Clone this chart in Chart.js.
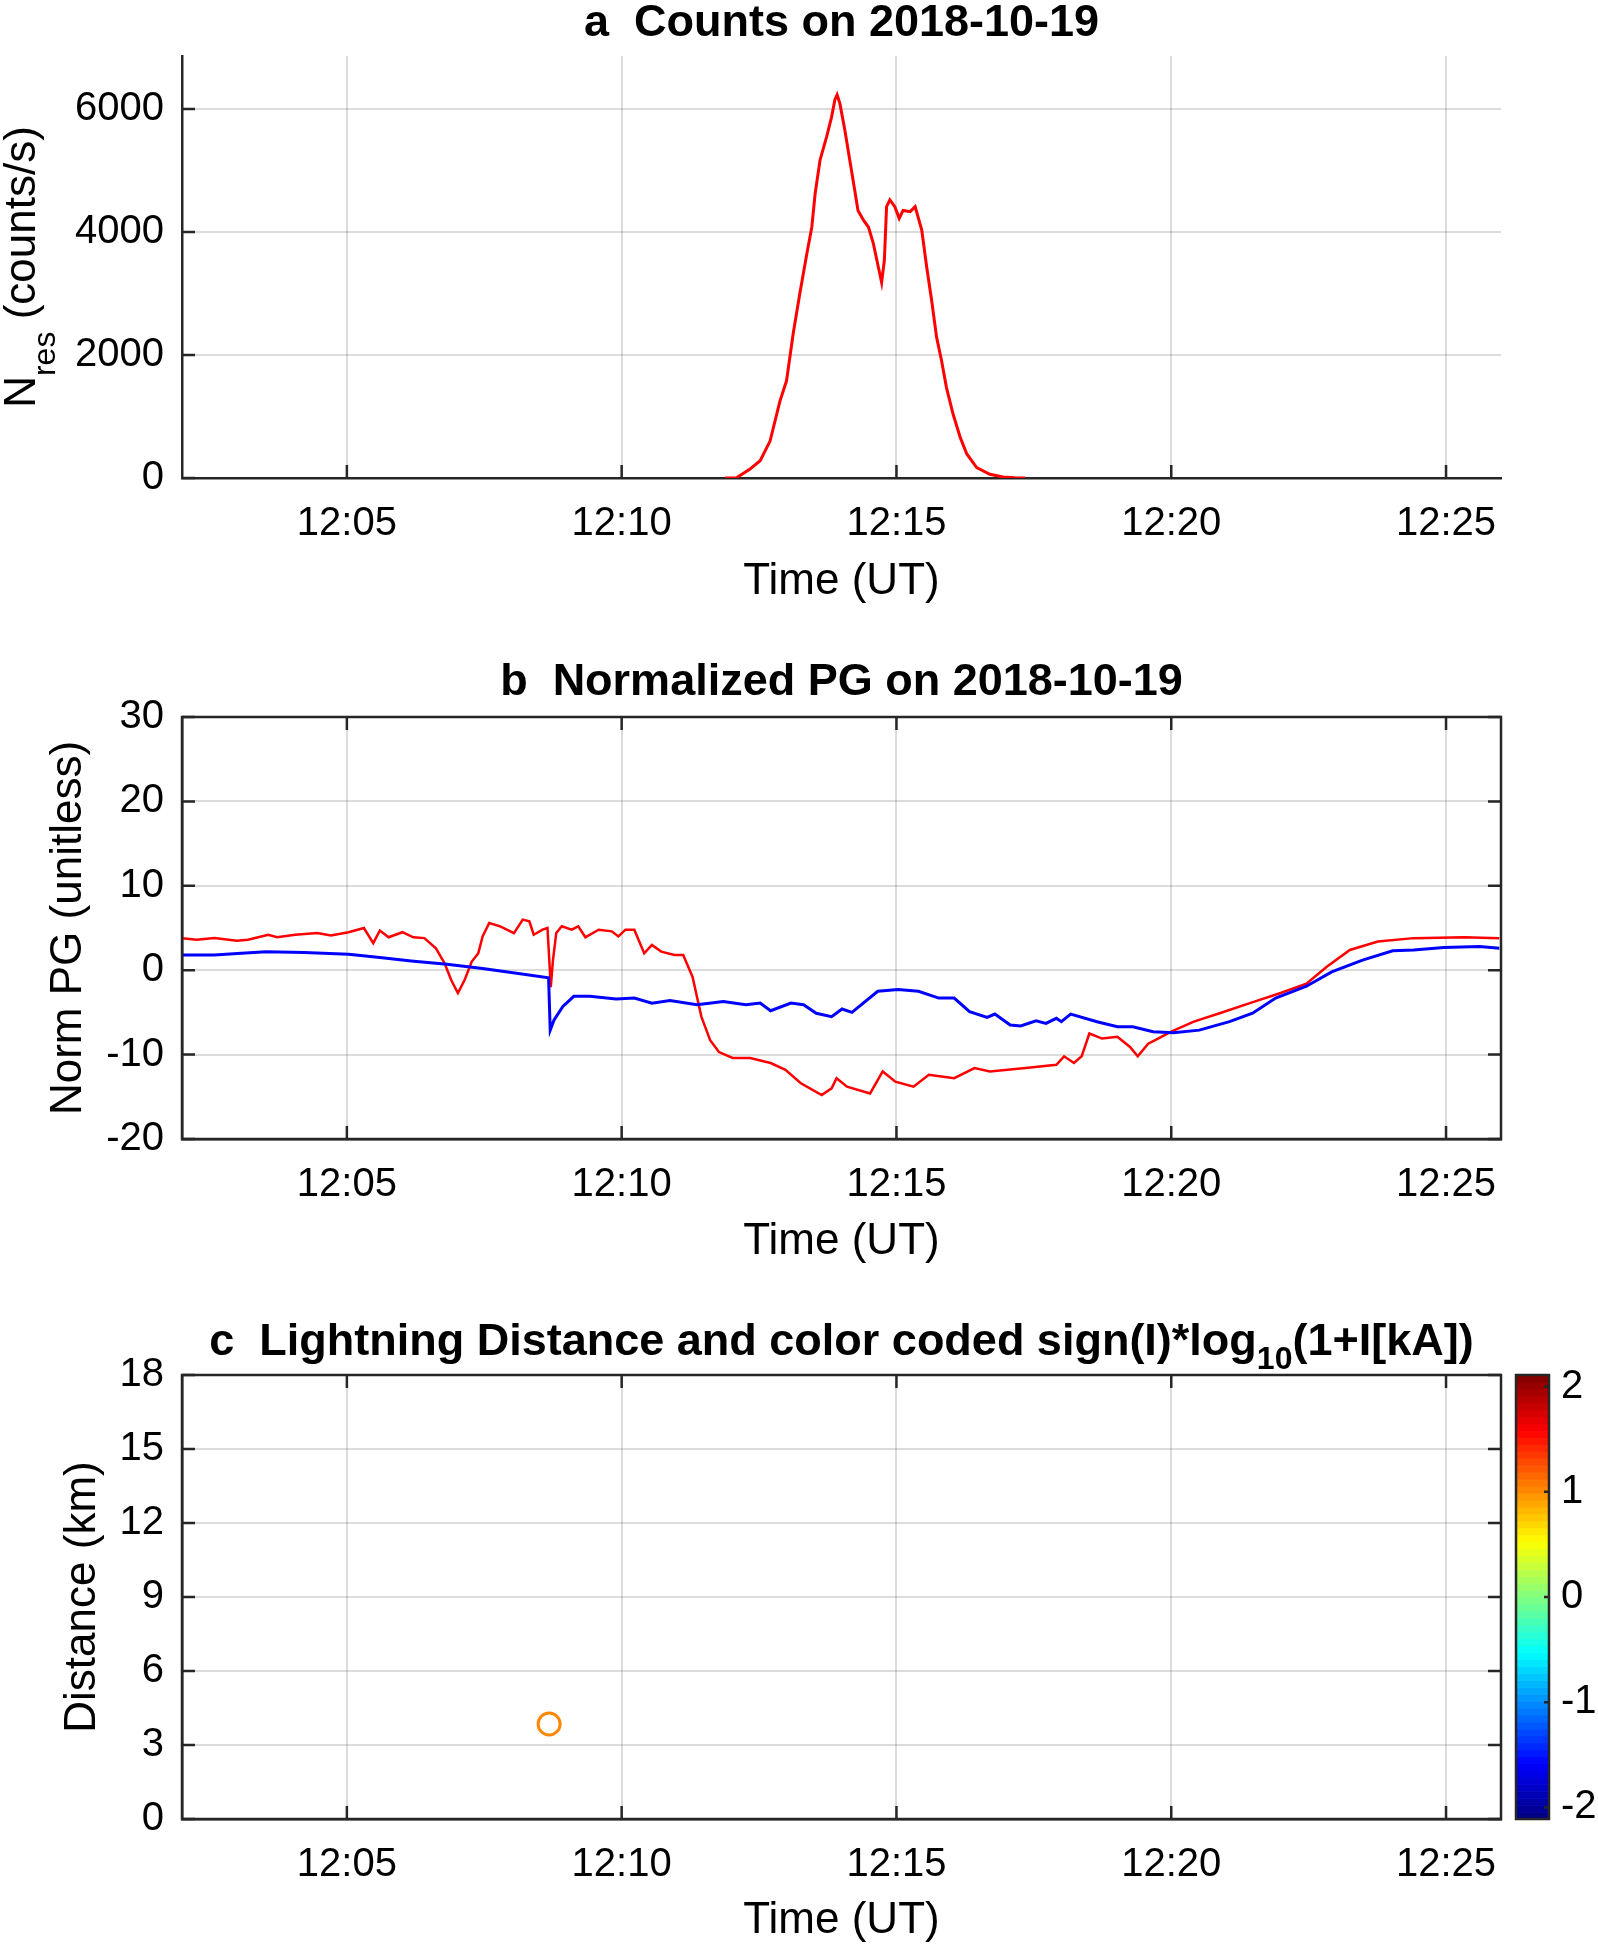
<!DOCTYPE html>
<html>
<head>
<meta charset="utf-8">
<title>Counts, normalized PG and lightning on 2018-10-19</title>
<script src="https://cdn.jsdelivr.net/npm/chart.js@4.4.1/dist/chart.umd.min.js"></script>
<style>
  html, body { margin: 0; padding: 0; background: #fff; }
  body { position: relative; width: 1598px; height: 1945px; overflow: hidden; }
  canvas { position: absolute; left: 0; }
</style>
</head>
<body>
<canvas id="panelA" width="1598" height="630" style="top:0px"></canvas>
<canvas id="panelB" width="1598" height="640" style="top:630px"></canvas>
<canvas id="panelC" width="1598" height="675" style="top:1270px"></canvas>
<script>
// time axis: minutes after 12:00 UT
const xMin = 2, xMax = 26;
const xTickMinutes = [5, 10, 15, 20, 25];
const xTickLabels = ['12:05', '12:10', '12:15', '12:20', '12:25'];

// a  counts
const countsMinutes = [11.88, 12.09, 12.33, 12.52, 12.70, 12.88, 13.00, 13.12, 13.24, 13.37, 13.46, 13.52, 13.61, 13.73, 13.82, 13.88, 13.92, 13.97, 14.06, 14.15, 14.24, 14.30, 14.40, 14.49, 14.58, 14.67, 14.73, 14.78, 14.82, 14.88, 14.97, 15.05, 15.12, 15.25, 15.34, 15.46, 15.55, 15.64, 15.73, 15.82, 15.91, 16.03, 16.16, 16.28, 16.46, 16.70, 16.94, 17.15, 17.34];
const countsValues = [0, 5, 140, 280, 600, 1250, 1580, 2340, 2990, 3650, 4080, 4620, 5170, 5550, 5870, 6150, 6230, 6090, 5660, 5170, 4680, 4350, 4190, 4080, 3810, 3430, 3180, 3540, 4410, 4520, 4410, 4220, 4350, 4330, 4410, 4030, 3430, 2890, 2290, 1910, 1470, 1040, 660, 390, 170, 60, 16, 5, 0];
const countsTicks = [0, 2000, 4000, 6000];

// b  normalized PG, red and blue traces
const pgRedMinutes = [2.0, 2.27, 2.59, 3.0, 3.2, 3.57, 3.73, 4.06, 4.46, 4.71, 5.03, 5.31, 5.48, 5.60, 5.76, 6.01, 6.21, 6.41, 6.62, 6.78, 6.90, 7.02, 7.14, 7.27, 7.39, 7.47, 7.59, 7.79, 8.04, 8.20, 8.32, 8.40, 8.56, 8.65, 8.69, 8.71, 8.75, 8.81, 8.91, 9.09, 9.21, 9.34, 9.58, 9.82, 9.94, 10.07, 10.23, 10.41, 10.55, 10.72, 10.96, 11.12, 11.29, 11.45, 11.61, 11.77, 12.02, 12.34, 12.71, 12.98, 13.26, 13.64, 13.82, 13.91, 14.10, 14.52, 14.75, 14.98, 15.31, 15.59, 16.05, 16.42, 16.70, 17.35, 17.91, 18.05, 18.23, 18.37, 18.51, 18.74, 19.02, 19.25, 19.39, 19.58, 19.76, 19.99, 20.41, 20.88, 21.43, 21.99, 22.46, 22.83, 23.25, 23.76, 24.41, 25.33, 25.97];
const pgRedValues = [3.8, 3.6, 3.8, 3.5, 3.6, 4.2, 3.9, 4.2, 4.4, 4.1, 4.5, 5.0, 3.2, 4.7, 3.9, 4.5, 3.9, 3.8, 2.6, 0.8, -1.2, -2.7, -1.2, 1.0, 2.0, 4.0, 5.6, 5.2, 4.4, 6.0, 5.8, 4.2, 4.8, 5.0, 0.4, -2.0, 1.2, 4.4, 5.2, 4.8, 5.2, 3.9, 4.8, 4.6, 4.0, 4.8, 4.8, 2.0, 3.0, 2.2, 1.8, 1.8, -0.8, -5.5, -8.3, -9.7, -10.4, -10.4, -11.0, -11.8, -13.4, -14.8, -14.0, -12.8, -13.8, -14.6, -12.0, -13.2, -13.8, -12.4, -12.8, -11.6, -12.0, -11.6, -11.2, -10.2, -11.0, -10.2, -7.5, -8.1, -7.9, -9.1, -10.2, -8.7, -8.1, -7.3, -6.1, -5.1, -3.9, -2.7, -1.6, 0.4, 2.4, 3.4, 3.8, 3.9, 3.8];
const pgBlueMinutes = [2.0, 2.59, 3.08, 3.53, 4.22, 5.03, 5.60, 6.17, 6.82, 7.47, 8.12, 8.67, 8.70, 8.77, 8.93, 9.13, 9.42, 9.90, 10.23, 10.55, 10.88, 11.37, 11.85, 12.26, 12.52, 12.71, 13.08, 13.31, 13.54, 13.82, 14.01, 14.19, 14.66, 15.03, 15.40, 15.77, 16.05, 16.33, 16.65, 16.79, 17.07, 17.26, 17.54, 17.72, 17.91, 18.00, 18.17, 18.65, 19.02, 19.30, 19.67, 20.04, 20.51, 21.06, 21.48, 21.90, 22.46, 22.92, 23.48, 24.03, 24.41, 24.96, 25.61, 25.97];
const pgBlueValues = [1.8, 1.8, 2.0, 2.2, 2.1, 1.9, 1.5, 1.1, 0.7, 0.2, -0.4, -0.9, -7.1, -5.9, -4.3, -3.1, -3.1, -3.4, -3.3, -3.9, -3.6, -4.1, -3.7, -4.1, -3.9, -4.8, -3.9, -4.1, -5.1, -5.5, -4.6, -5.0, -2.5, -2.3, -2.5, -3.3, -3.3, -4.9, -5.6, -5.2, -6.5, -6.6, -6.0, -6.3, -5.7, -6.1, -5.2, -6.1, -6.7, -6.7, -7.3, -7.4, -7.1, -6.1, -5.1, -3.3, -1.9, -0.2, 1.2, 2.3, 2.4, 2.7, 2.8, 2.6];
const pgTicks = [-20, -10, 0, 10, 20, 30];

// c  lightning strokes: time, distance, sign(I)*log10(1+|I|)
const strokeMinutes = [8.68];
const strokeDistance = [3.85];
const strokeCurrent = [1.0];
const distTicks = [0, 3, 6, 9, 12, 15, 18];
const cbarTicks = [-2, -1, 0, 1, 2];
const cbarLimit = 2.11;

const FONT = '"Liberation Sans", Arial, sans-serif';
const W = 1598, PLOT_LEFT = 182, PLOT_RIGHT = 1501;
const TICK_FONT = 40, LABEL_FONT = 44, TITLE_FONT = 45, TICK_LEN = 13;
const AXIS_COLOR = '#262626', GRID_COLOR = 'rgba(38,38,38,0.16)';

function jet(v) {
  let t = (v + cbarLimit) / (2 * cbarLimit);
  t = (Math.min(63, Math.max(0, Math.floor(t * 64))) + 0.5) / 64;
  const c = x => Math.round(255 * Math.min(1, Math.max(0, x)));
  return 'rgb(' + c(1.5 - Math.abs(4 * t - 3)) + ',' + c(1.5 - Math.abs(4 * t - 2)) + ',' + c(1.5 - Math.abs(4 * t - 1)) + ')';
}

function drawSegments(ctx, segs, x0, y, weight) {
  let total = 0;
  segs.forEach(s => { ctx.font = weight + ' ' + s.size + 'px ' + FONT; s.w = ctx.measureText(s.text).width; total += s.w; });
  let x = x0 - total / 2;
  segs.forEach(s => {
    ctx.font = weight + ' ' + s.size + 'px ' + FONT;
    ctx.fillText(s.text, x, y + (s.dy || 0));
    x += s.w;
  });
}

// MATLAB-like frame: inward ticks, box, titles, colorbar
const matlabAxes = {
  id: 'matlabAxes',
  afterDraw(chart, args, o) {
    const ctx = chart.ctx, a = chart.chartArea, sx = chart.scales.x, sy = chart.scales.y;
    ctx.save();
    ctx.strokeStyle = AXIS_COLOR;
    ctx.lineWidth = 2.5;
    ctx.beginPath();
    sx.ticks.forEach(t => {
      const px = sx.getPixelForValue(t.value);
      ctx.moveTo(px, a.bottom); ctx.lineTo(px, a.bottom - TICK_LEN);
      if (o.box) { ctx.moveTo(px, a.top); ctx.lineTo(px, a.top + TICK_LEN); }
    });
    sy.ticks.forEach(t => {
      const py = sy.getPixelForValue(t.value);
      ctx.moveTo(a.left, py); ctx.lineTo(a.left + TICK_LEN, py);
      if (o.box) { ctx.moveTo(a.right, py); ctx.lineTo(a.right - TICK_LEN, py); }
    });
    ctx.stroke();
    if (o.box) ctx.strokeRect(a.left, a.top, a.right - a.left, a.bottom - a.top);

    if (o.colorbar) {
      const sc = chart.scales.y2;
      const left = a.right + 15, width = 33, n = 64;
      for (let k = 0; k < n; k++) {
        const v0 = -cbarLimit + 2 * cbarLimit * k / n;
        const v1 = -cbarLimit + 2 * cbarLimit * (k + 1) / n;
        const y0 = sc.getPixelForValue(v0), y1 = sc.getPixelForValue(v1);
        ctx.fillStyle = jet((v0 + v1) / 2);
        ctx.fillRect(left, y1, width, y0 - y1 + 0.6);
      }
      ctx.lineWidth = 2.5;
      ctx.strokeRect(left, sc.getPixelForValue(cbarLimit), width, sc.getPixelForValue(-cbarLimit) - sc.getPixelForValue(cbarLimit));
      ctx.beginPath();
      cbarTicks.forEach(v => {
        const py = sc.getPixelForValue(v);
        ctx.moveTo(left + width, py); ctx.lineTo(left + width - 5, py);
      });
      ctx.stroke();
    }

    ctx.fillStyle = '#000';
    ctx.textBaseline = 'alphabetic';
    ctx.textAlign = 'left';
    if (o.title) drawSegments(ctx, o.title, (a.left + a.right) / 2, a.top - o.titleGap, 'bold');
    if (o.yLabel) {
      ctx.translate(o.yLabel.x, (a.top + a.bottom) / 2);
      ctx.rotate(-Math.PI / 2);
      drawSegments(ctx, o.yLabel.segs, 0, 0, 'normal');
    }
    ctx.restore();
  }
};

function makePanel(id, p) {
  const padTop = p.plotTop - p.canvasTop;
  const xH = p.canvasTop + p.canvasH - p.plotBottom;
  const tickFont = { family: FONT, size: TICK_FONT, lineHeight: 1.2 };
  const labelFont = { family: FONT, size: LABEL_FONT, lineHeight: 1.2 };
  const scales = {
    x: {
      type: 'linear', min: xMin, max: xMax,
      afterBuildTicks: s => { s.ticks = xTickMinutes.map(v => ({ value: v })); },
      afterFit: s => { s.height = xH; },
      grid: { color: GRID_COLOR, lineWidth: 2, drawTicks: false },
      border: { color: AXIS_COLOR, width: 2.5 },
      ticks: { color: '#000', font: tickFont, padding: 22, maxRotation: 0, autoSkip: false,
               callback: (v, i) => xTickLabels[i] },
      title: { display: true, text: 'Time (UT)', color: '#000', font: labelFont,
               padding: { top: 0, bottom: p.canvasTop + p.canvasH - p.xTitleY - LABEL_FONT * 0.6 - 3.5 } }
    },
    y: {
      type: 'linear', min: p.yMin, max: p.yMax,
      afterBuildTicks: s => { s.ticks = p.yTicks.map(v => ({ value: v })); },
      afterFit: s => { s.width = PLOT_LEFT; },
      grid: { color: GRID_COLOR, lineWidth: 2, drawTicks: false },
      border: { color: AXIS_COLOR, width: 2.5 },
      ticks: { color: '#000', font: tickFont, padding: 18, callback: v => String(v) },
      title: p.yTitle ? { display: true, text: p.yTitle, color: '#000', font: labelFont,
               padding: { top: p.yTitleX - LABEL_FONT * 0.6, bottom: 0 } } : { display: false }
    }
  };
  let padRight = W - PLOT_RIGHT;
  if (p.colorbar) {
    padRight = 0;
    scales.y2 = {
      type: 'linear', position: 'right', min: -cbarLimit, max: cbarLimit,
      afterBuildTicks: s => { s.ticks = cbarTicks.map(v => ({ value: v })); },
      afterFit: s => { s.width = W - PLOT_RIGHT; },
      grid: { display: false, drawTicks: false },
      border: { display: false },
      ticks: { color: '#000', font: tickFont, padding: 60, callback: v => String(v) }
    };
  }
  return new Chart(document.getElementById(id), {
    type: p.type || 'line',
    data: { datasets: p.datasets },
    options: {
      responsive: false,
      animation: false,
      devicePixelRatio: 1,
      events: [],
      layout: { padding: { top: padTop, right: padRight, bottom: 0, left: 0 } },
      scales: scales,
      plugins: {
        legend: { display: false },
        tooltip: { enabled: false },
        matlabAxes: { box: p.box, title: p.title, titleGap: p.titleGap, yLabel: p.yLabel, colorbar: p.colorbar }
      }
    },
    plugins: [matlabAxes]
  });
}

const pts = (xs, ys) => xs.map((x, i) => ({ x: x, y: ys[i] }));

makePanel('panelA', {
  canvasTop: 0, canvasH: 630, plotTop: 56, plotBottom: 478, xTitleY: 578,
  yMin: 0, yMax: 6860, yTicks: countsTicks, box: false, titleGap: 20,
  title: [{ text: 'a  Counts on 2018-10-19', size: TITLE_FONT }],
  yLabel: { x: 35, segs: [{ text: 'N', size: LABEL_FONT }, { text: 'res', size: 32, dy: 20 }, { text: ' (counts/s)', size: LABEL_FONT }] },
  datasets: [{ data: pts(countsMinutes, countsValues), borderColor: '#ff0000', borderWidth: 3, pointRadius: 0, fill: false, tension: 0 }]
});

makePanel('panelB', {
  canvasTop: 630, canvasH: 640, plotTop: 717, plotBottom: 1139, xTitleY: 1238,
  yMin: -20, yMax: 30, yTicks: pgTicks, box: true, titleGap: 22,
  yTitle: 'Norm PG (unitless)', yTitleX: 69,
  title: [{ text: 'b  Normalized PG on 2018-10-19', size: TITLE_FONT }],
  datasets: [
    { data: pts(pgBlueMinutes, pgBlueValues), borderColor: '#0000ff', borderWidth: 3, pointRadius: 0, fill: false, tension: 0 },
    { data: pts(pgRedMinutes, pgRedValues), borderColor: '#ff0000', borderWidth: 2.5, pointRadius: 0, fill: false, tension: 0 }
  ]
});

makePanel('panelC', {
  type: 'scatter',
  canvasTop: 1270, canvasH: 675, plotTop: 1375, plotBottom: 1819, xTitleY: 1917,
  yMin: 0, yMax: 18, yTicks: distTicks, box: true, colorbar: true, titleGap: 20,
  yTitle: 'Distance (km)', yTitleX: 83,
  title: [{ text: 'c  Lightning Distance and color coded sign(I)*log', size: TITLE_FONT },
          { text: '10', size: 32, dy: 14 },
          { text: '(1+I[kA])', size: TITLE_FONT }],
  datasets: [{
    data: pts(strokeMinutes, strokeDistance),
    pointRadius: 11, pointBorderWidth: 3,
    pointBackgroundColor: 'rgba(0,0,0,0)',
    pointBorderColor: strokeCurrent.map(jet),
    showLine: false
  }]
});
</script>
</body>
</html>
